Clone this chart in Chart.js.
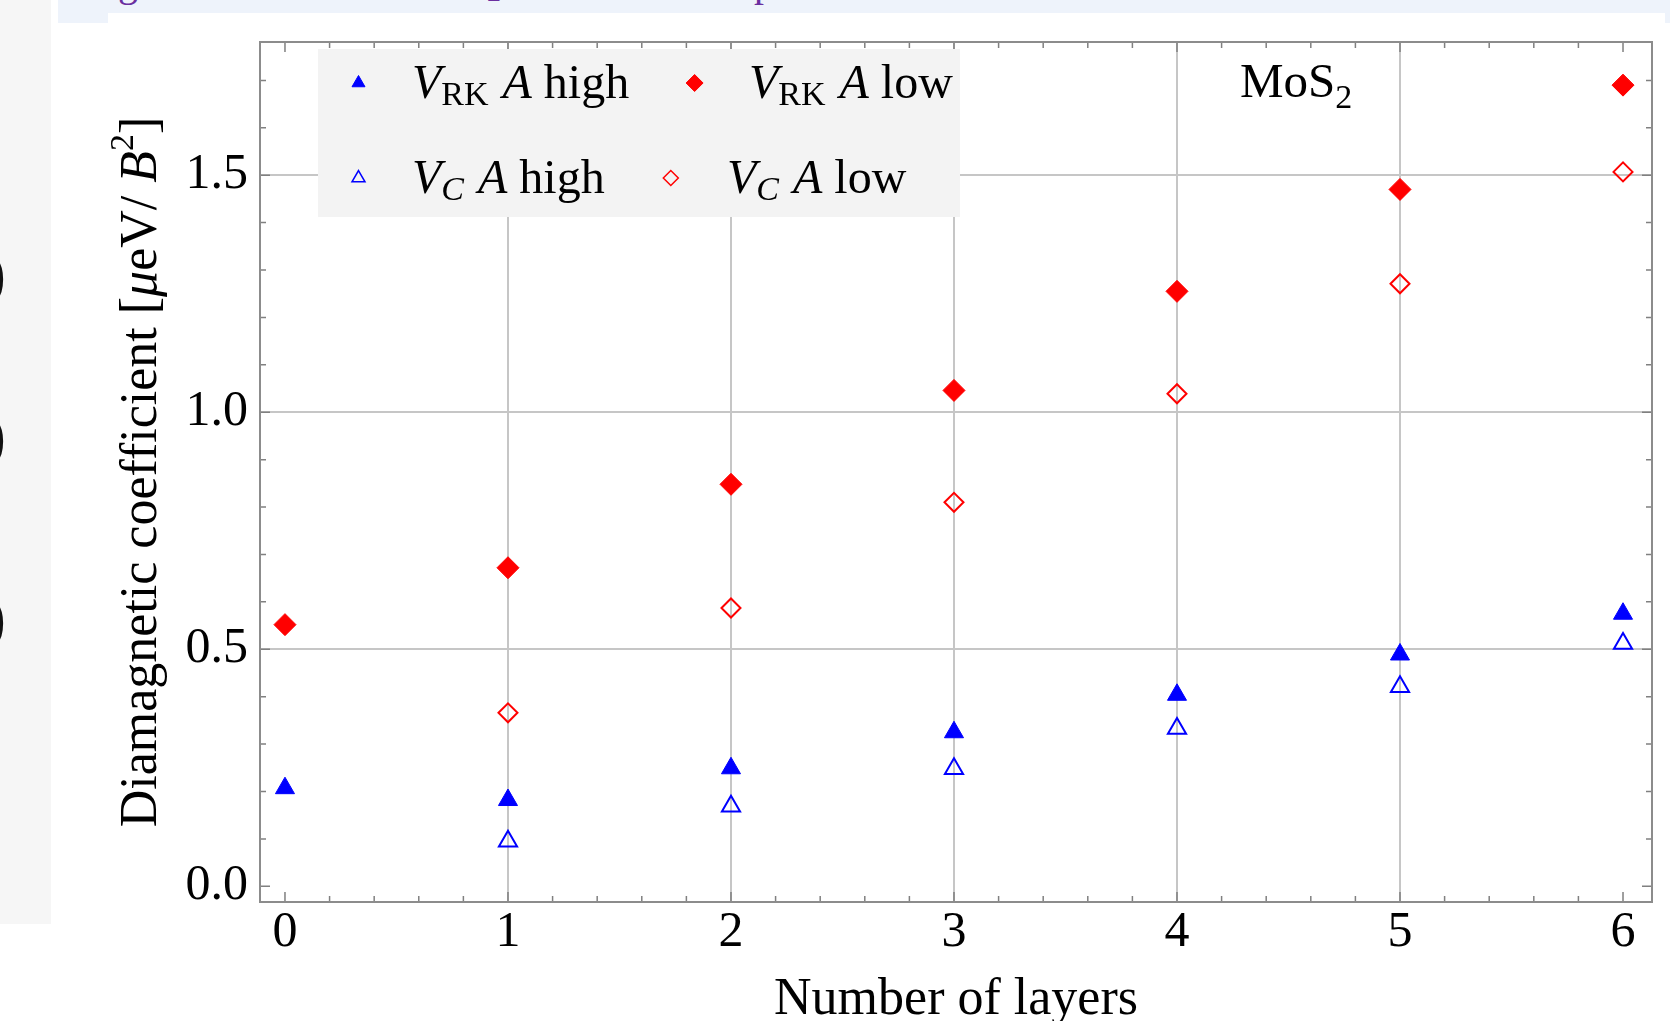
<!DOCTYPE html>
<html>
<head>
<meta charset="utf-8">
<title>Diamagnetic coefficient vs number of layers</title>
<script src="https://cdn.jsdelivr.net/npm/chart.js@4.4.1/dist/chart.umd.min.js"></script>
<style>
  html, body { margin: 0; padding: 0; background: #fff; overflow: hidden; }
  #page { position: relative; width: 1677px; height: 1021px; overflow: hidden; background: #fff; }
  #sidebar { position: absolute; left: 0; top: 0; width: 51px; height: 924px; background: #f6f6f6; overflow: hidden; }
  #sidebar span { position: absolute; left: -50px; font: bold 115px/115px "Liberation Serif", serif; color: #111; }
  #caption { position: absolute; left: 58px; top: 0; width: 1612px; height: 23px; background: #eef3fb; overflow: hidden; }
  #caption .inner { position: absolute; left: 50px; top: 13px; right: 5px; height: 20px; background: #fff; }
  #caption span { position: absolute; font: 40px/40px "Liberation Serif", serif; color: #6b2fa0; }
  canvas { position: absolute; left: 0; top: 0; }
</style>
</head>
<body>
<div id="page">
  <div id="sidebar"><span style="top:210px">o</span><span style="top:372px">o</span><span style="top:554px">o</span></div>
  <div id="caption"><div class="inner"></div><span style="left:60px;top:-37px">g</span><span style="left:429px;top:-28px;font-size:28px">2</span><span style="left:696px;top:-37px">p</span></div>
  <canvas id="chart" width="1677" height="1021"></canvas>
</div>
<script>
// values
const layers = [0, 1, 2, 3, 4, 5, 6];
const vrkHigh = [0.207, 0.182, 0.249, 0.325, 0.404, 0.489, 0.575];
const vrkLow = [0.552, 0.672, 0.848, 1.046, 1.255, 1.470, 1.690];
const vcHigh = [null, 0.095, 0.169, 0.248, 0.333, 0.421, 0.512];
const vcLow = [null, 0.366, 0.587, 0.810, 1.039, 1.271, 1.507];

const xTicks = [0, 1, 2, 3, 4, 5, 6];
const yTicks = [0, 0.5, 1, 1.5];
const yTickLabels = ['0.0', '0.5', '1.0', '1.5'];
const xGridValues = [1, 2, 3, 4, 5];
const yGridValues = [0.5, 1, 1.5];

const xTitle = 'Number of layers';
const yTitleParts = ['Diamagnetic coefficient [', 'μ', 'eV/ ', 'B', '2', ']'];
const legendSymbols = ['V', 'V', 'V', 'V'];
const legendSubs = ['RK', 'RK', 'C', 'C'];
const legendTails = ['high', 'low', 'high', 'low'];
const materialName = ['MoS', '2'];

const serif = '"Liberation Serif", "Times New Roman", serif';
const gridColor = '#c6c6c6';
const frameColor = '#8c8c8c';
const tickColor = '#808080';
const blue = '#0000ff';
const red = '#ff0000';

function toPoints(values) {
    const points = [];
    for (let i = 0; i < layers.length; i++) {
        if (values[i] !== null) {
            points.push({x: layers[i], y: values[i]});
        }
    }
    return points;
}

function drawRuns(ctx, runs, x, y) {
    for (const run of runs) {
        ctx.font = run.font;
        ctx.fillText(run.text, x, y + (run.dy || 0));
        x += ctx.measureText(run.text).width + (run.after || 0);
    }
    return x;
}

function runsWidth(ctx, runs) {
    let w = 0;
    for (const run of runs) {
        ctx.font = run.font;
        w += ctx.measureText(run.text).width + (run.after || 0);
    }
    return w;
}

// inward major/minor ticks on all four sides plus the frame
const axisDecor = {
    id: 'axisDecor',
    beforeDatasetsDraw(chart) {
        const {ctx, chartArea: a, scales: {x, y}} = chart;
        ctx.save();
        ctx.strokeStyle = tickColor;
        ctx.lineWidth = 1.5;
        ctx.beginPath();
        for (let i = 0; i <= 30; i++) {
            const px = x.getPixelForValue(i * 0.2);
            const len = i % 5 === 0 ? 10 : 6;
            ctx.moveTo(px, a.bottom);
            ctx.lineTo(px, a.bottom - len);
            ctx.moveTo(px, a.top);
            ctx.lineTo(px, a.top + len);
        }
        for (let i = 0; i <= 17; i++) {
            const py = y.getPixelForValue(i * 0.1);
            const len = i % 5 === 0 ? 10 : 6;
            ctx.moveTo(a.left, py);
            ctx.lineTo(a.left + len, py);
            ctx.moveTo(a.right, py);
            ctx.lineTo(a.right - len, py);
        }
        ctx.stroke();
        ctx.strokeStyle = frameColor;
        ctx.lineWidth = 2;
        ctx.strokeRect(a.left, a.top, a.right - a.left, a.bottom - a.top);
        ctx.restore();
    }
};

// legend box, rotated y title and the MoS2 label (they need italics and sub/superscripts)
const richText = {
    id: 'richText',
    afterDatasetsDraw(chart) {
        const {ctx, chartArea: a} = chart;
        const reg = size => `${size}px ${serif}`;
        const ita = size => `italic ${size}px ${serif}`;
        ctx.save();
        ctx.fillStyle = '#000';
        ctx.textBaseline = 'alphabetic';
        ctx.textAlign = 'left';

        // y axis title
        const yRuns = [
            {text: yTitleParts[0], font: reg(52)},
            {text: yTitleParts[1], font: ita(52)},
            {text: yTitleParts[2], font: reg(52)},
            {text: yTitleParts[3], font: ita(52)},
            {text: yTitleParts[4], font: reg(34), dy: -23},
            {text: yTitleParts[5], font: reg(52)}
        ];
        const yMid = (a.top + a.bottom) / 2;
        ctx.save();
        ctx.translate(156, yMid);
        ctx.rotate(-Math.PI / 2);
        drawRuns(ctx, yRuns, -runsWidth(ctx, yRuns) / 2, 0);
        ctx.restore();

        // material label
        drawRuns(ctx, [
            {text: materialName[0], font: reg(49)},
            {text: materialName[1], font: reg(34), dy: 11}
        ], 1240, 97);

        // legend
        ctx.fillStyle = '#f3f3f3';
        ctx.fillRect(318, 49, 642, 168);
        const slots = [
            {mx: 358.5, my: 83, tx: 412, ty: 98},
            {mx: 694.6, my: 83, tx: 749, ty: 98},
            {mx: 358.5, my: 178, tx: 412, ty: 193},
            {mx: 670.8, my: 178, tx: 727, ty: 193}
        ];
        const markerRadius = [7.5, 8.5, 7.5, 7.5];
        slots.forEach((s, i) => {
            const ds = chart.data.datasets[i];
            ctx.fillStyle = ds.backgroundColor;
            ctx.strokeStyle = ds.borderColor;
            ctx.lineWidth = ds.borderWidth > 1 ? 1.5 : 1;
            Chart.helpers.drawPoint(ctx, {
                pointStyle: ds.pointStyle,
                radius: markerRadius[i],
                borderWidth: ds.borderWidth > 1 ? 1.5 : 1,
                rotation: 0
            }, s.mx, s.my);
            ctx.fillStyle = '#000';
            const subFont = legendSubs[i] === 'C' ? ita(34) : reg(34);
            drawRuns(ctx, [
                {text: legendSymbols[i], font: ita(48)},
                {text: legendSubs[i], font: subFont, dy: 7, after: 2},
                {text: ' ', font: reg(48)},
                {text: 'A', font: ita(48)},
                {text: ' ' + legendTails[i], font: reg(48)}
            ], s.tx, s.ty);
        });
        ctx.restore();
    }
};

const ctx = document.getElementById('chart').getContext('2d');
const chart = new Chart(ctx, {
    type: 'scatter',
    data: {
        datasets: [
            {
                label: 'V_RK A high',
                data: toPoints(vrkHigh),
                pointStyle: 'triangle',
                pointRadius: 11,
                backgroundColor: blue,
                borderColor: blue,
                borderWidth: 1
            },
            {
                label: 'V_RK A low',
                data: toPoints(vrkLow),
                pointStyle: 'rectRot',
                pointRadius: 11,
                backgroundColor: red,
                borderColor: red,
                borderWidth: 1
            },
            {
                label: 'V_C A high',
                data: toPoints(vcHigh),
                pointStyle: 'triangle',
                pointRadius: 10.5,
                backgroundColor: 'rgba(255,255,255,0)',
                borderColor: blue,
                borderWidth: 2
            },
            {
                label: 'V_C A low',
                data: toPoints(vcLow),
                pointStyle: 'rectRot',
                pointRadius: 9.5,
                backgroundColor: 'rgba(255,255,255,0)',
                borderColor: red,
                borderWidth: 2
            }
        ]
    },
    options: {
        responsive: false,
        animation: false,
        devicePixelRatio: 1,
        layout: {padding: {left: 0, top: 42, right: 25, bottom: 0}},
        plugins: {
            legend: {display: false},
            tooltip: {enabled: false}
        },
        scales: {
            x: {
                type: 'linear',
                min: -0.112,
                max: 6.13,
                afterBuildTicks: scale => { scale.ticks = xTicks.map(v => ({value: v})); },
                afterFit: scale => { scale.height = 119; },
                grid: {
                    color: c => (c.tick && xGridValues.includes(c.tick.value)) ? gridColor : 'rgba(0,0,0,0)',
                    lineWidth: 2,
                    drawTicks: false
                },
                border: {display: false},
                ticks: {
                    font: {family: serif, size: 50, lineHeight: 1.2},
                    color: '#000',
                    padding: 1,
                    maxRotation: 0,
                    autoSkip: false
                },
                title: {
                    display: true,
                    text: xTitle,
                    font: {family: serif, size: 52, lineHeight: 0.8},
                    color: '#000',
                    padding: 0
                }
            },
            y: {
                type: 'linear',
                min: -0.0331,
                max: 1.781,
                afterBuildTicks: scale => { scale.ticks = yTicks.map(v => ({value: v})); },
                afterFit: scale => { scale.width = 260; },
                grid: {
                    color: c => (c.tick && yGridValues.includes(c.tick.value)) ? gridColor : 'rgba(0,0,0,0)',
                    lineWidth: 2,
                    drawTicks: false
                },
                border: {display: false},
                ticks: {
                    font: {family: serif, size: 50},
                    color: '#000',
                    padding: 12,
                    callback: value => yTickLabels[yTicks.indexOf(value)]
                }
            }
        }
    },
    plugins: [axisDecor, richText]
});
</script>
</body>
</html>
